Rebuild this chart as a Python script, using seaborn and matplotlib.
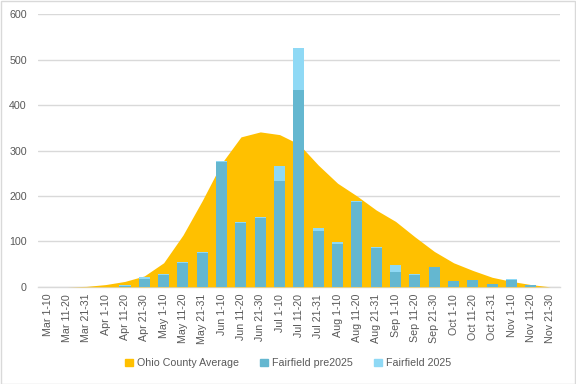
import matplotlib
matplotlib.use("Agg")
import matplotlib.pyplot as plt
import seaborn as sns
import numpy as np
import pandas as pd
from matplotlib.patches import Patch

categories = ["Mar 1-10", "Mar 11-20", "Mar 21-31", "Apr 1-10", "Apr 11-20", "Apr 21-30",
              "May 1-10", "May 11-20", "May 21-31", "Jun 1-10", "Jun 11-20", "Jun 21-30",
              "Jul 1-10", "Jul 11-20", "Jul 21-31", "Aug 1-10", "Aug 11-20", "Aug 21-31",
              "Sep 1-10", "Sep 11-20", "Sep 21-30", "Oct 1-10", "Oct 11-20", "Oct 21-31",
              "Nov 1-10", "Nov 11-20", "Nov 21-30"]
ohio_avg = [0, 0, 1, 5, 12, 24, 53, 114, 190, 272, 330, 341, 335, 314, 268, 228, 200,
            169, 144, 110, 78, 53, 36, 21, 12, 5, 0]
fairfield_pre2025 = [0, 0, 0, 0, 2, 18, 27, 53, 75, 275, 141, 152, 233, 433, 123, 94, 186,
                     85, 33, 26, 44, 12, 14, 7, 15, 5, 0]
fairfield_2025 = [0, 0, 0, 0, 1, 3, 2, 2, 2, 2, 2, 1, 34, 92, 7, 5, 2,
                  2, 15, 3, 0, 0, 0, 0, 3, 0, 0]

sns.set_theme(style="white")
plt.rcParams['font.family'] = ['Liberation Sans', 'DejaVu Sans']

C_AREA = "#FFC000"
C_PRE = "#64B7D0"
C_2025 = "#8FD9F5"
TXT = "#595959"
FS = 7.7

df = pd.DataFrame({
    "cat": categories,
    "avg": ohio_avg,
    "pre": fairfield_pre2025,
    "total": np.array(fairfield_pre2025) + np.array(fairfield_2025),
})

fig = plt.figure(figsize=(5.76, 3.84), dpi=100)
ax = fig.add_axes([0.066, 0.253, 0.906, 0.71])

x = np.arange(len(categories))
ax.fill_between(x, df["avg"], 0, color=C_AREA, linewidth=0, zorder=1)
sns.barplot(data=df, x="cat", y="total", color=C_2025, width=0.57, saturation=1,
            linewidth=0, edgecolor="none", ax=ax, zorder=2)
sns.barplot(data=df, x="cat", y="pre", color=C_PRE, width=0.57, saturation=1,
            linewidth=0, edgecolor="none", ax=ax, zorder=3)

ax.set_xlim(-0.5, len(categories) - 0.5)
ax.set_ylim(0, 600)
ax.set_yticks(range(0, 601, 100))
ax.yaxis.grid(True, color="#D9D9D9", linewidth=1)
ax.set_axisbelow(True)
for s in ["top", "right", "left"]:
    ax.spines[s].set_visible(False)
ax.spines["bottom"].set_color("#D9D9D9")
ax.spines["bottom"].set_linewidth(1)
ax.spines["bottom"].set_zorder(0.5)
ax.set_xlabel("")
ax.set_ylabel("")
ax.set_xticks(x)
ax.set_xticklabels(categories, rotation=90, fontsize=FS, color=TXT)
ax.tick_params(axis="y", labelsize=FS, colors=TXT, length=0, pad=8)
ax.tick_params(axis="x", length=0, pad=5)

handles = [Patch(color=C_AREA, label="Ohio County Average"),
           Patch(color=C_PRE, label="Fairfield pre2025"),
           Patch(color=C_2025, label="Fairfield 2025")]
leg = fig.legend(handles=handles, loc="center", bbox_to_anchor=(0.5, 0.054), ncol=3,
                 frameon=False, fontsize=FS, handlelength=0.7, handleheight=0.7,
                 handletextpad=0.4, columnspacing=2.0, labelcolor=TXT)

fig.patches.append(plt.Rectangle((0.001, 0.001), 0.997, 0.997, transform=fig.transFigure,
                                 fill=False, edgecolor="#D9D9D9", linewidth=1))
fig.savefig("out.png", dpi=100)
